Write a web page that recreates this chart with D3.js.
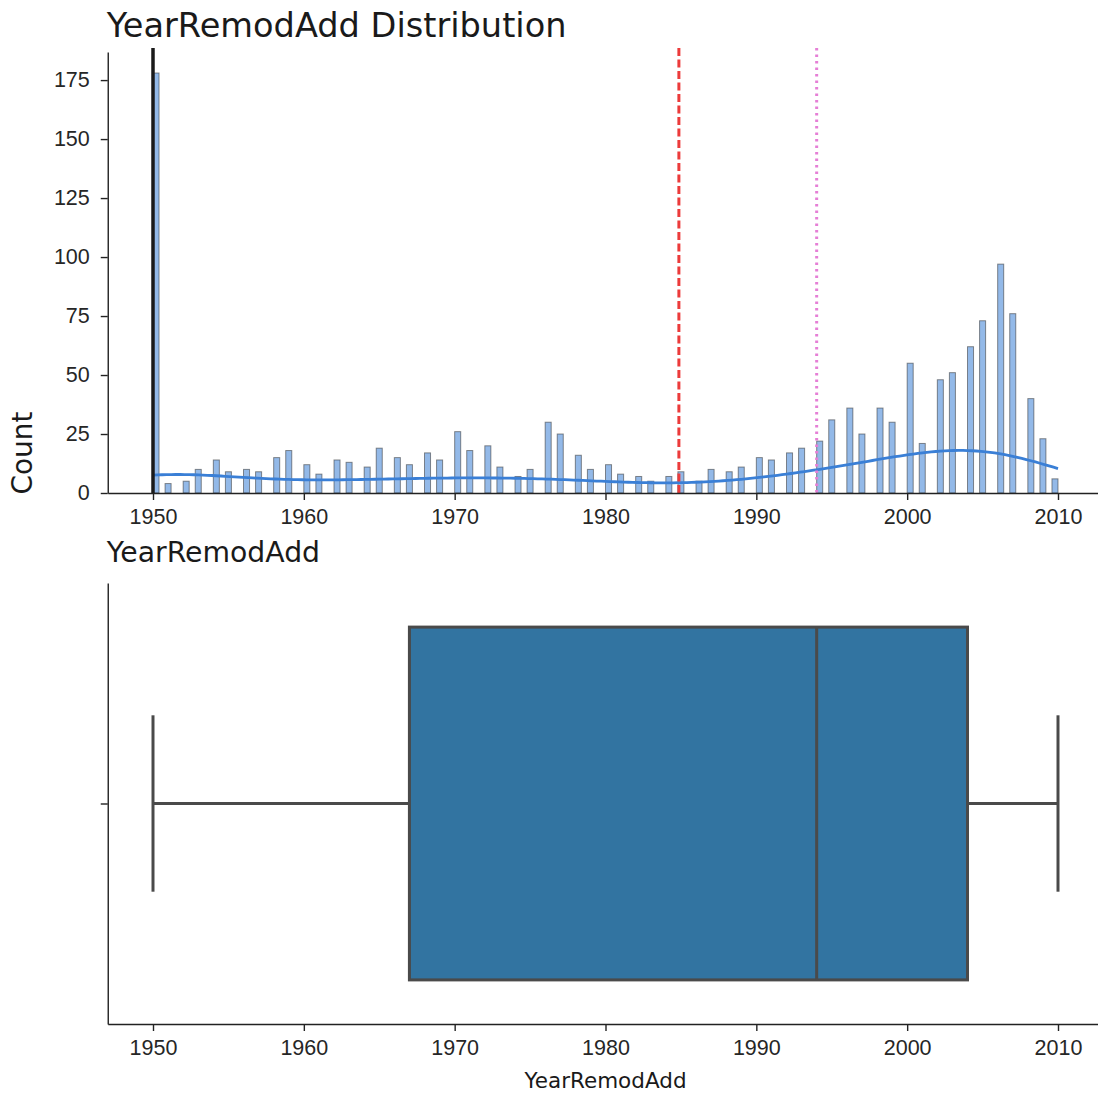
<!DOCTYPE html>
<html>
<head>
<meta charset="utf-8">
<script src="https://cdn.jsdelivr.net/npm/d3@7"></script>
<style>
  body { margin: 0; background: #fff; }
  svg { font-family: "DejaVu Sans", sans-serif; }
</style>
</head>
<body>
<svg id="chart" width="1098" height="1093"></svg>
<script>
// data: how many houses per YearRemodAdd value
const years = [1950, 1951, 1952, 1953, 1954, 1955, 1956, 1957, 1958, 1959,
  1960, 1961, 1962, 1963, 1964, 1965, 1966, 1967, 1968, 1969,
  1970, 1971, 1972, 1973, 1974, 1975, 1976, 1977, 1978, 1979,
  1980, 1981, 1982, 1983, 1984, 1985, 1986, 1987, 1988, 1989,
  1990, 1991, 1992, 1993, 1994, 1995, 1996, 1997, 1998, 1999,
  2000, 2001, 2002, 2003, 2004, 2005, 2006, 2007, 2008, 2009, 2010];
const counts = [178, 4, 5, 10, 14, 9, 10, 9, 15, 18,
  12, 8, 14, 13, 11, 19, 15, 12, 17, 14,
  26, 18, 20, 11, 7, 10, 30, 25, 16, 10,
  12, 8, 7, 5, 7, 9, 5, 10, 9, 11,
  15, 14, 17, 19, 22, 31, 36, 25, 36, 30,
  55, 21, 48, 51, 62, 73, 97, 76, 40, 23, 6];
const xTicks = [1950, 1960, 1970, 1980, 1990, 2000, 2010];
const yTicks = [0, 25, 50, 75, 100, 125, 150, 175];

const nBins = 150,
  binLo = 1950,
  binHi = 2010,
  binW = (binHi - binLo) / nBins;

const axLeft = 107.75,
  axRight = 1103.25,
  top1 = 52, bot1 = 493,
  top2 = 583, bot2 = 1024,
  tickFont = "21.5px";

const svg = d3.select("#chart");

// raw values, one per house
var values = [];
years.forEach((y, i) => { for (let k = 0; k < counts[i]; k++) values.push(y); });
values.sort(d3.ascending);
const n = values.length;

const meanVal = d3.mean(values),
  medianVal = d3.median(values),
  modeVal = years[d3.maxIndex(counts)];

var x = d3.scaleLinear()
  .domain([binLo - 0.05 * (binHi - binLo), binHi + 0.05 * (binHi - binLo)])
  .range([axLeft, axRight]);

// ---------- histogram ----------
var bins = d3.range(nBins).map(k => ({ x0: binLo + k * binW, x1: binLo + (k + 1) * binW, count: 0 }));
years.forEach((y, i) => {
  var k = Math.min(nBins - 1, Math.floor((y - binLo) / binW + 1e-9));
  bins[k].count += counts[i];
});

var y1 = d3.scaleLinear()
  .domain([0, d3.max(bins, d => d.count) * 1.05])
  .range([bot1, top1]);

const g1 = svg.append("g");

g1.selectAll(".bar").data(bins.filter(d => d.count > 0))
  .enter().append("rect")
  .attr("class", "bar")
  .attr("x", d => x(d.x0))
  .attr("width", d => x(d.x1) - x(d.x0))
  .attr("y", d => y1(d.count))
  .attr("height", d => y1(0) - y1(d.count))
  .attr("fill", "#3a7fd6")
  .attr("fill-opacity", 0.55)
  .attr("stroke", "#333")
  .attr("stroke-opacity", 0.55)
  .attr("stroke-width", 1);

// kde, scott bandwidth, scaled to counts
const sd = d3.deviation(values),
  bw = sd * Math.pow(n, -1 / 5);
var grid = d3.range(201).map(i => binLo + (binHi - binLo) * i / 200);
var kde = grid.map(g => {
  var s = 0;
  years.forEach((y, i) => {
    var z = (g - y) / bw;
    s += counts[i] * Math.exp(-0.5 * z * z) / (bw * Math.sqrt(2 * Math.PI));
  });
  return [g, s * binW];
});

g1.append("path")
  .datum(kde)
  .attr("fill", "none")
  .attr("stroke", "#3a7fd6")
  .attr("stroke-width", 2.8)
  .attr("d", d3.line().x(d => x(d[0])).y(d => y1(d[1])));

// mode / mean / median markers
function vline(v, color, dash, w) {
  g1.append("line")
    .attr("x1", x(v)).attr("x2", x(v))
    .attr("y1", top1 - 4).attr("y2", bot1)
    .attr("stroke", color)
    .attr("stroke-width", w)
    .attr("stroke-dasharray", dash);
}
vline(modeVal, "#1a1a1a", null, 3.5);
vline(meanVal, "#ec3b3b", "8,3.5", 3);
vline(medianVal, "#e57fd6", "2.5,4", 3);

// axes
function styleAxis(g) {
  g.selectAll("path").attr("stroke", "#222").attr("stroke-width", 1.4);
  g.selectAll("line").attr("stroke", "#222").attr("stroke-width", 1.4);
  g.selectAll("text").attr("fill", "#262626").style("font-size", tickFont);
}

g1.append("g")
  .attr("transform", `translate(0,${bot1})`)
  .call(d3.axisBottom(x).tickValues(xTicks).tickFormat(d3.format("d")).tickSize(7).tickPadding(9).tickSizeOuter(0))
  .call(styleAxis);

g1.append("g")
  .attr("transform", `translate(${axLeft},0)`)
  .call(d3.axisLeft(y1).tickValues(yTicks).tickSize(7).tickPadding(11).tickSizeOuter(0))
  .call(styleAxis);

svg.append("text")
  .attr("x", axLeft - 1).attr("y", 37)
  .style("font-size", "33.6px")
  .attr("fill", "#1a1a1a")
  .text("YearRemodAdd Distribution");

svg.append("text")
  .attr("transform", "translate(32,453) rotate(-90)")
  .attr("text-anchor", "middle")
  .style("font-size", "28px")
  .attr("fill", "#1a1a1a")
  .text("Count");

// ---------- boxplot ----------
const q1 = d3.quantile(values, 0.25),
  q3 = d3.quantile(values, 0.75),
  iqr = q3 - q1,
  whiskLo = d3.min(values.filter(v => v >= q1 - 1.5 * iqr)),
  whiskHi = d3.max(values.filter(v => v <= q3 + 1.5 * iqr));

var y2 = d3.scaleLinear().domain([-0.5, 0.5]).range([top2, bot2]);
const g2 = svg.append("g");
const boxStroke = "#4a4a4a", boxW = 3;

g2.append("line")
  .attr("x1", x(whiskLo)).attr("x2", x(q1))
  .attr("y1", y2(0)).attr("y2", y2(0))
  .attr("stroke", boxStroke).attr("stroke-width", boxW);
g2.append("line")
  .attr("x1", x(q3)).attr("x2", x(whiskHi))
  .attr("y1", y2(0)).attr("y2", y2(0))
  .attr("stroke", boxStroke).attr("stroke-width", boxW);
[whiskLo, whiskHi].forEach(v => {
  g2.append("line")
    .attr("x1", x(v)).attr("x2", x(v))
    .attr("y1", y2(-0.2)).attr("y2", y2(0.2))
    .attr("stroke", boxStroke).attr("stroke-width", boxW);
});
g2.append("rect")
  .attr("x", x(q1)).attr("width", x(q3) - x(q1))
  .attr("y", y2(-0.4)).attr("height", y2(0.4) - y2(-0.4))
  .attr("fill", "#3274a1")
  .attr("stroke", boxStroke).attr("stroke-width", boxW);
g2.append("line")
  .attr("x1", x(medianVal)).attr("x2", x(medianVal))
  .attr("y1", y2(-0.4)).attr("y2", y2(0.4))
  .attr("stroke", boxStroke).attr("stroke-width", boxW);

g2.append("g")
  .attr("transform", `translate(0,${bot2})`)
  .call(d3.axisBottom(x).tickValues(xTicks).tickFormat(d3.format("d")).tickSize(7).tickPadding(9).tickSizeOuter(0))
  .call(styleAxis);

g2.append("g")
  .attr("transform", `translate(${axLeft},0)`)
  .call(d3.axisLeft(y2).tickValues([0]).tickFormat("").tickSize(7).tickSizeOuter(0))
  .call(styleAxis);

svg.append("text")
  .attr("x", axLeft - 1).attr("y", 562)
  .style("font-size", "28.3px")
  .attr("fill", "#1a1a1a")
  .text("YearRemodAdd");

svg.append("text")
  .attr("x", (axLeft + axRight) / 2).attr("y", 1088)
  .attr("text-anchor", "middle")
  .style("font-size", "21.5px")
  .attr("fill", "#1a1a1a")
  .text("YearRemodAdd");
</script>
</body>
</html>
